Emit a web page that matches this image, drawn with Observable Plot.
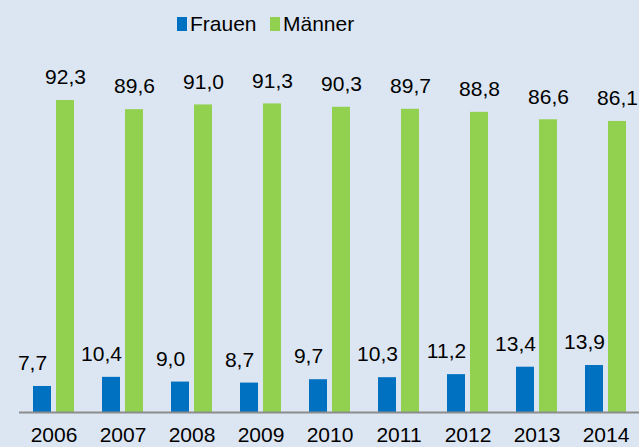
<!DOCTYPE html>
<html>
<head>
<meta charset="utf-8">
<script src="https://cdn.jsdelivr.net/npm/d3@7"></script>
<script src="https://cdn.jsdelivr.net/npm/@observablehq/plot@0.6"></script>
<style>
  html, body { margin: 0; padding: 0; background: #dce6f2; overflow: hidden; width: 639px; height: 447px; }
  #legend { position: relative; height: 48px; width: 639px; font-family: "Liberation Sans", Arial, sans-serif; font-size: 21px; color: #000; }
  .sw { position: absolute; top: 17px; width: 10px; height: 14px; }
  .lt { position: absolute; top: 12px; line-height: 24px; }
  #chart { width: 639px; overflow: hidden; }
  #chart svg { display: block; background: transparent; max-width: none; }
</style>
</head>
<body>
<div id="legend"></div>
<div id="chart"></div>
<script>
const years = ["2006","2007","2008","2009","2010","2011","2012","2013","2014"];
const series = ["Frauen","Männer"];
const frauen = [7.7, 10.4, 9.0, 8.7, 9.7, 10.3, 11.2, 13.4, 13.9];
const maenner = [92.3, 89.6, 91.0, 91.3, 90.3, 89.7, 88.8, 86.6, 86.1];
const colors = ["#0070c0", "#92d050"];

const data = [];
years.forEach((y, i) => {
  data.push({year: y, series: series[0], value: frauen[i]});
  data.push({year: y, series: series[1], value: maenner[i]});
});

const fmt = v => v.toFixed(1).replace(".", ",");

// legend
const legend = document.getElementById("legend");
const lx = [177, 270];
const tx = [190, 283];
series.forEach((s, i) => {
  const sw = document.createElement("div");
  sw.className = "sw"; sw.style.left = lx[i] + "px"; sw.style.background = colors[i];
  legend.appendChild(sw);
  const t = document.createElement("div");
  t.className = "lt"; t.style.left = tx[i] + "px"; t.textContent = s;
  legend.appendChild(t);
});

const plot = Plot.plot({
  width: 643,
  height: 399,
  marginTop: 26,
  marginBottom: 35,
  marginLeft: 15,
  marginRight: 0,
  style: {background: "transparent", fontFamily: "Liberation Sans, Arial, sans-serif", fontSize: "21px", color: "#000"},
  fx: {domain: years, padding: 0, axis: "bottom", tickSize: 0, tickPadding: 15, label: null},
  x: {domain: series, paddingInner: 0.233, paddingOuter: 0.58, axis: null},
  y: {domain: [0, 100], axis: null},
  color: {domain: series, range: colors},
  marks: [
    Plot.barY(data, {fx: "year", x: "series", y: "value", fill: "series"}),
    Plot.ruleY([0], {stroke: "#8c8c8c", strokeWidth: 2}),
    Plot.text(data.filter(d => d.series === "Männer"), {fx: "year", x: "series", y: "value", text: d => fmt(d.value), dy: -23, fontSize: 21, fill: "#000"}),
    Plot.text(data.filter(d => d.series === "Frauen"), {fx: "year", x: "series", y: "value", text: d => fmt(d.value), dy: -23, dx: -10, fontSize: 21, fill: "#000"})
  ]
});
document.getElementById("chart").appendChild(plot);
</script>
</body>
</html>
